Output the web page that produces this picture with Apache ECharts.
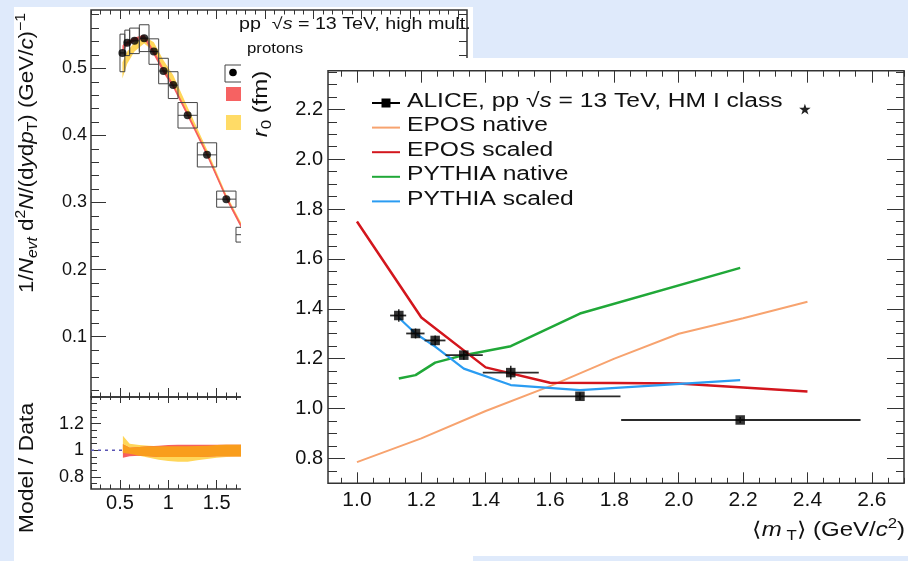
<!DOCTYPE html>
<html>
<head>
<meta charset="utf-8">
<script src="https://cdn.jsdelivr.net/npm/echarts@6/dist/echarts.min.js"></script>
<style>
  html, body { margin: 0; padding: 0; width: 908px; height: 561px; overflow: hidden; background: #dfeafb; }
  #spectrum { position: absolute; left: 14px; top: 7px; width: 459px; height: 554px; background: #ffffff; }
  #radius { position: absolute; left: 241px; top: 58px; width: 667px; height: 498px; background: #ffffff; }
</style>
</head>
<body>
<div id="spectrum"></div>
<div id="radius"></div>
<script>
// ---------- Proton pT spectrum, high-multiplicity pp at 13 TeV ----------
const ptBins       = [0.525, 0.575, 0.65, 0.75, 0.85, 0.95, 1.05, 1.2, 1.4, 1.6, 1.8];
const ptHalfWidth  = [0.025, 0.025, 0.05, 0.05, 0.05, 0.05, 0.05, 0.1, 0.1, 0.1, 0.1];
const protonYield  = [0.523, 0.538, 0.541, 0.545, 0.525, 0.496, 0.475, 0.430, 0.371, 0.305, 0.252];
const protonSys    = [0.028, 0.019, 0.019, 0.020, 0.019, 0.019, 0.020, 0.019, 0.018, 0.012, 0.011];

// model bands on the spectrum
const modelPt     = [0.525, 0.575, 0.65, 0.75, 0.85, 0.95, 1.05, 1.2, 1.4, 1.6, 1.8, 2.0];
const eposLow     = [0.526, 0.534, 0.540, 0.544, 0.520, 0.493, 0.471, 0.428, 0.369, 0.304, 0.249, 0.203];
const eposHigh    = [0.534, 0.541, 0.546, 0.550, 0.527, 0.500, 0.477, 0.434, 0.375, 0.310, 0.255, 0.208];
const pythiaLow   = [0.485, 0.507, 0.525, 0.537, 0.525, 0.497, 0.476, 0.431, 0.370, 0.305, 0.250, 0.203];
const pythiaHigh  = [0.509, 0.525, 0.539, 0.548, 0.539, 0.512, 0.490, 0.442, 0.379, 0.312, 0.257, 0.209];

// model / data ratio bands
const ratioPt        = [0.53, 0.6, 0.7, 0.8, 0.9, 1.0, 1.1, 1.2, 1.3, 1.4, 1.5, 1.6, 1.7, 1.8];
const eposRatioLow   = [0.945, 0.955, 0.960, 0.955, 0.950, 0.950, 0.950, 0.950, 0.950, 0.952, 0.955, 0.955, 0.955, 0.955];
const eposRatioHigh  = [1.045, 1.020, 1.025, 1.030, 1.035, 1.040, 1.042, 1.042, 1.042, 1.042, 1.042, 1.042, 1.042, 1.042];
const pythiaRatioLow = [0.980, 0.975, 0.960, 0.945, 0.930, 0.920, 0.915, 0.915, 0.925, 0.935, 0.945, 0.950, 0.952, 0.952];
const pythiaRatioHigh= [1.110, 1.050, 1.040, 1.035, 1.030, 1.030, 1.030, 1.030, 1.032, 1.035, 1.040, 1.042, 1.042, 1.042];

const spectrumYTicks = [0.1, 0.2, 0.3, 0.4, 0.5];
const ratioYTicks    = [0.8, 1, 1.2];
const ptTicks        = [0.5, 1, 1.5, 2, 2.5, 3, 3.5, 4];

// ---------- Source radius r0 versus <mT> ----------
const aliceMt    = [1.130, 1.182, 1.243, 1.332, 1.478, 1.693, 2.191];
const aliceR0    = [1.373, 1.301, 1.273, 1.214, 1.144, 1.049, 0.954];
const aliceMtLow = [1.103, 1.153, 1.210, 1.275, 1.391, 1.565, 1.821];
const aliceMtHigh= [1.153, 1.210, 1.275, 1.391, 1.565, 1.819, 2.565];
const aliceR0Err = [0.025, 0.020, 0.020, 0.018, 0.028, 0.015, 0.012];

const eposMt       = [1.0, 1.2, 1.4, 1.6, 1.8, 2.0, 2.2, 2.4];
const eposNative   = [0.785, 0.880, 0.990, 1.090, 1.200, 1.300, 1.362, 1.428];
const eposScaled   = [1.750, 1.365, 1.165, 1.103, 1.102, 1.100, 1.084, 1.068];
const pythiaMt     = [1.130, 1.182, 1.243, 1.332, 1.478, 1.693, 2.191];
const pythiaNative = [1.120, 1.134, 1.184, 1.214, 1.250, 1.381, 1.564];
const pythiaScaled = [1.364, 1.301, 1.248, 1.160, 1.094, 1.074, 1.114];

const r0Ticks = [0.8, 1.0, 1.2, 1.4, 1.6, 1.8, 2.0, 2.2];
const mtTicks = [1.0, 1.2, 1.4, 1.6, 1.8, 2.0, 2.2, 2.4, 2.6];

// ---------- shared helpers ----------
const FONT = '"Liberation Sans", Arial, Helvetica, sans-serif';
const INK = '#111';
const FRAME = '#333';

function steps(from, to, step) {
  const out = [];
  for (let v = from; v <= to + 1e-9; v += step) out.push(+v.toFixed(4));
  return out;
}

function axis(kind, o) {
  const a = {
    type: 'value', gridIndex: o.grid, position: o.pos, min: o.min, max: o.max,
    axisLine: { show: false }, splitLine: { show: false },
    axisTick: { show: true, inside: true, length: o.len, customValues: o.ticks,
                lineStyle: { color: FRAME, width: 1 } },
    axisLabel: { show: false }
  };
  if (o.labels) {
    a.axisLabel = { show: true, customValues: o.labels, formatter: o.fmt,
                    fontFamily: FONT, fontSize: o.fontSize, color: INK, margin: o.margin };
  }
  return a;
}

function richStyles(size) {
  return {
    n:   { fontFamily: FONT, fontSize: size, color: INK, lineHeight: Math.round(size * 1.3) },
    i:   { fontFamily: FONT, fontSize: size, color: INK, fontStyle: 'italic', lineHeight: Math.round(size * 1.3) },
    sub: { fontFamily: FONT, fontSize: Math.round(size * 0.68), color: INK, verticalAlign: 'bottom', lineHeight: Math.round(size * 0.7) },
    subi:{ fontFamily: FONT, fontSize: Math.round(size * 0.68), color: INK, fontStyle: 'italic', verticalAlign: 'bottom', lineHeight: Math.round(size * 0.7) },
    sup: { fontFamily: FONT, fontSize: Math.round(size * 0.68), color: INK, verticalAlign: 'top', lineHeight: Math.round(size * 0.7) }
  };
}

function label(text, x, y, size, opts) {
  opts = opts || {};
  return {
    type: 'text', x: x, y: y, z: 100, silent: true,
    rotation: opts.rotation || 0, scaleX: opts.scaleX || 1.2,
    style: {
      text: text, rich: richStyles(size), fontFamily: FONT, fontSize: size, fill: INK,
      align: opts.align || 'left', textAlign: opts.align || 'left',
      verticalAlign: 'middle', textVerticalAlign: 'middle'
    }
  };
}

// filled band between two curves, drawn through the series' axes
function band(xi, yi, xs, lo, hi, color, z) {
  return {
    type: 'custom', xAxisIndex: xi, yAxisIndex: yi, z: z, silent: true,
    data: xs.map((x, i) => [x, lo[i], hi[i]]),
    encode: { x: 0, y: [1, 2] },
    renderItem: (params, api) => {
      if (params.dataIndex !== 0) return;
      const top = xs.map((x, i) => api.coord([x, hi[i]]));
      const bottom = xs.map((x, i) => api.coord([x, lo[i]])).reverse();
      return { type: 'polygon', shape: { points: top.concat(bottom) }, style: { fill: color } };
    }
  };
}

// ================= spectrum + ratio panels =================
const overlapLow = ratioPt.map((_, i) => Math.max(eposRatioLow[i], pythiaRatioLow[i]));
const overlapHigh = ratioPt.map((_, i) => Math.min(eposRatioHigh[i], pythiaRatioHigh[i]));

const ptMinor = steps(0.2, 4.0, 0.1);
const PT_MIN = 0.2, PT_MAX = 4.09;
const SP_MIN = 0.01, SP_MAX = 0.587;
const RA_MIN = 0.71, RA_MAX = 1.40;

const spectrumOption = {
  animation: false,
  grid: [
    { left: 77, top: 3, width: 376, height: 387, show: true, borderColor: FRAME, borderWidth: 1.5 },
    { left: 77, top: 390, width: 376, height: 92, show: true, borderColor: FRAME, borderWidth: 1.5 }
  ],
  xAxis: [
    axis('x', { grid: 0, pos: 'bottom', min: PT_MIN, max: PT_MAX, len: 9, ticks: ptTicks }),
    axis('x', { grid: 0, pos: 'bottom', min: PT_MIN, max: PT_MAX, len: 4.5, ticks: ptMinor }),
    axis('x', { grid: 0, pos: 'top', min: PT_MIN, max: PT_MAX, len: 9, ticks: ptTicks }),
    axis('x', { grid: 0, pos: 'top', min: PT_MIN, max: PT_MAX, len: 4.5, ticks: ptMinor }),
    axis('x', { grid: 1, pos: 'bottom', min: PT_MIN, max: PT_MAX, len: 9, ticks: ptTicks,
                labels: ptTicks, fmt: v => String(v), fontSize: 20, margin: 4 }),
    axis('x', { grid: 1, pos: 'bottom', min: PT_MIN, max: PT_MAX, len: 4.5, ticks: ptMinor }),
    axis('x', { grid: 1, pos: 'top', min: PT_MIN, max: PT_MAX, len: 6, ticks: ptTicks }),
    axis('x', { grid: 1, pos: 'top', min: PT_MIN, max: PT_MAX, len: 3, ticks: ptMinor })
  ],
  yAxis: [
    axis('y', { grid: 0, pos: 'left', min: SP_MIN, max: SP_MAX, len: 15, ticks: spectrumYTicks,
                labels: spectrumYTicks, fmt: v => String(v), fontSize: 18, margin: 4 }),
    axis('y', { grid: 0, pos: 'left', min: SP_MIN, max: SP_MAX, len: 8, ticks: steps(0.02, 0.58, 0.02) }),
    axis('y', { grid: 0, pos: 'right', min: SP_MIN, max: SP_MAX, len: 15, ticks: spectrumYTicks }),
    axis('y', { grid: 0, pos: 'right', min: SP_MIN, max: SP_MAX, len: 8, ticks: steps(0.02, 0.58, 0.02) }),
    axis('y', { grid: 1, pos: 'left', min: RA_MIN, max: RA_MAX, len: 10, ticks: ratioYTicks,
                labels: ratioYTicks, fmt: v => String(v), fontSize: 18, margin: 7 }),
    axis('y', { grid: 1, pos: 'left', min: RA_MIN, max: RA_MAX, len: 6, ticks: steps(0.75, 1.35, 0.05) }),
    axis('y', { grid: 1, pos: 'right', min: RA_MIN, max: RA_MAX, len: 10, ticks: ratioYTicks }),
    axis('y', { grid: 1, pos: 'right', min: RA_MIN, max: RA_MAX, len: 6, ticks: steps(0.75, 1.35, 0.05) })
  ],
  series: [
    band(0, 0, modelPt, pythiaLow, pythiaHigh, '#ffd659', 2),
    band(0, 0, modelPt, eposLow, eposHigh, '#f65f5f', 3),
    {
      type: 'custom', xAxisIndex: 0, yAxisIndex: 0, z: 4, silent: true,
      data: ptBins.map((x, i) => [x, protonYield[i], ptHalfWidth[i], protonSys[i]]),
      encode: { x: 0, y: 1 },
      renderItem: (params, api) => {
        const x = api.value(0), y = api.value(1), hw = api.value(2), s = api.value(3);
        const a = api.coord([x - hw, y + s]);
        const b = api.coord([x + hw, y - s]);
        const l = api.coord([x - hw, y]);
        const r = api.coord([x + hw, y]);
        return {
          type: 'group',
          children: [
            { type: 'rect', shape: { x: a[0], y: a[1], width: b[0] - a[0], height: b[1] - a[1] },
              style: { fill: 'none', stroke: '#444', lineWidth: 1 } },
            { type: 'line', shape: { x1: l[0], y1: l[1], x2: r[0], y2: r[1] },
              style: { stroke: '#444', lineWidth: 1 } }
          ]
        };
      }
    },
    {
      type: 'scatter', xAxisIndex: 0, yAxisIndex: 0, z: 5, silent: true,
      symbol: 'circle', symbolSize: 8, itemStyle: { color: '#000' },
      data: ptBins.map((x, i) => [x, protonYield[i]])
    },
    {
      type: 'line', xAxisIndex: 4, yAxisIndex: 4, z: 1, silent: true, symbol: 'none',
      lineStyle: { color: '#5a55b5', width: 1.5, type: [3, 4] },
      data: [[PT_MIN, 1], [PT_MAX, 1]]
    },
    band(4, 4, ratioPt, pythiaRatioLow, pythiaRatioHigh, '#ffd65a', 2),
    band(4, 4, ratioPt, eposRatioLow, eposRatioHigh, '#f65f5f', 3),
    band(4, 4, ratioPt, overlapLow, overlapHigh, '#f99d1c', 4)
  ],
  graphic: [
    label('pp  √{i|s} = 13 TeV, high mult.', 225, 18, 16, { scaleX: 1.23 }),
    label('protons', 233, 42, 14, { scaleX: 1.2 }),
    { type: 'rect', z: 100, silent: true, shape: { x: 211, y: 58, width: 22, height: 17 },
      style: { fill: '#fff', stroke: '#444', lineWidth: 1 } },
    { type: 'circle', z: 101, silent: true, shape: { cx: 219, cy: 65.5, r: 3.8 }, style: { fill: '#000' } },
    { type: 'rect', z: 100, silent: true, shape: { x: 212, y: 80, width: 22, height: 14 }, style: { fill: '#f66262' } },
    { type: 'rect', z: 100, silent: true, shape: { x: 212, y: 108, width: 22, height: 15 }, style: { fill: '#ffdb66' } },
    label('1/{i|N}{subi|evt} d{sup|2}{i|N}/(d{i|y}d{i|p}{sub|T}) (GeV/{i|c}){sup|−1}', 13, 146, 20,
          { rotation: Math.PI / 2, align: 'center', scaleX: 1.12 }),
    label('Model / Data', 13, 461, 20, { rotation: Math.PI / 2, align: 'center', scaleX: 1.15 })
  ]
};

echarts.init(document.getElementById('spectrum')).setOption(spectrumOption);

// ================= r0 versus <mT> =================
const MT_MIN = 0.91, MT_MAX = 2.7;
const R_MIN = 0.70, R_MAX = 2.355;
const mtMinor = steps(0.95, 2.7, 0.05);
const rMinor = steps(0.7, 2.35, 0.05);

function modelLine(xs, ys, color, width, z) {
  return {
    type: 'line', xAxisIndex: 0, yAxisIndex: 0, z: z, silent: true, symbol: 'none',
    lineStyle: { color: color, width: width }, data: xs.map((x, i) => [x, ys[i]])
  };
}

const legendEntries = [
  { text: 'ALICE, pp √{i|s} = 13 TeV, HM I class', color: '#000', marker: true },
  { text: 'EPOS native', color: '#f7a36f' },
  { text: 'EPOS scaled', color: '#d3161d' },
  { text: 'PYTHIA native', color: '#20a838' },
  { text: 'PYTHIA scaled', color: '#2a9cf2' }
];
const legendGraphics = [];
legendEntries.forEach((e, i) => {
  const y = 45 + i * 24.6;
  legendGraphics.push({ type: 'line', z: 100, silent: true,
    shape: { x1: 131, y1: y, x2: 159, y2: y }, style: { stroke: e.color, lineWidth: 2 } });
  if (e.marker) {
    legendGraphics.push({ type: 'rect', z: 101, silent: true,
      shape: { x: 140.5, y: y - 4.5, width: 9, height: 9 }, style: { fill: '#000' } });
  }
  legendGraphics.push(label(e.text, 166, y - 2, 20, { scaleX: 1.23 }));
});

const radiusOption = {
  animation: false,
  grid: { left: 87, top: 12.7, width: 576, height: 412.6, show: true, borderColor: FRAME, borderWidth: 1.5 },
  xAxis: [
    axis('x', { grid: 0, pos: 'bottom', min: MT_MIN, max: MT_MAX, len: 11, ticks: mtTicks,
                labels: mtTicks, fmt: v => v.toFixed(1), fontSize: 21, margin: 6 }),
    axis('x', { grid: 0, pos: 'bottom', min: MT_MIN, max: MT_MAX, len: 5.5, ticks: mtMinor }),
    axis('x', { grid: 0, pos: 'top', min: MT_MIN, max: MT_MAX, len: 12, ticks: mtTicks }),
    axis('x', { grid: 0, pos: 'top', min: MT_MIN, max: MT_MAX, len: 6, ticks: mtMinor })
  ],
  yAxis: [
    axis('y', { grid: 0, pos: 'left', min: R_MIN, max: R_MAX, len: 17, ticks: r0Ticks,
                labels: r0Ticks, fmt: v => v.toFixed(1), fontSize: 20, margin: 5 }),
    axis('y', { grid: 0, pos: 'left', min: R_MIN, max: R_MAX, len: 9, ticks: rMinor }),
    axis('y', { grid: 0, pos: 'right', min: R_MIN, max: R_MAX, len: 17, ticks: r0Ticks }),
    axis('y', { grid: 0, pos: 'right', min: R_MIN, max: R_MAX, len: 8, ticks: rMinor })
  ],
  series: [
    modelLine(eposMt, eposNative, '#f7a36f', 2, 2),
    modelLine(pythiaMt, pythiaNative, '#20a838', 2.5, 3),
    modelLine(eposMt, eposScaled, '#d3161d', 2.5, 4),
    modelLine(pythiaMt, pythiaScaled, '#2a9cf2', 2.2, 5),
    {
      type: 'custom', xAxisIndex: 0, yAxisIndex: 0, z: 6, silent: true,
      data: aliceMt.map((x, i) => [x, aliceR0[i], aliceMtLow[i], aliceMtHigh[i], aliceR0Err[i]]),
      encode: { x: 0, y: 1 },
      renderItem: (params, api) => {
        const x = api.value(0), y = api.value(1);
        const l = api.coord([api.value(2), y]);
        const r = api.coord([api.value(3), y]);
        const t = api.coord([x, y + api.value(4)]);
        const b = api.coord([x, y - api.value(4)]);
        return {
          type: 'group',
          children: [
            { type: 'line', shape: { x1: l[0], y1: l[1], x2: r[0], y2: r[1] },
              style: { stroke: '#2a2a2a', lineWidth: 1.8 } },
            { type: 'line', shape: { x1: t[0], y1: t[1], x2: b[0], y2: b[1] },
              style: { stroke: '#2a2a2a', lineWidth: 1.5 } }
          ]
        };
      }
    },
    {
      type: 'scatter', xAxisIndex: 0, yAxisIndex: 0, z: 7, silent: true,
      symbol: 'rect', symbolSize: 9.5, itemStyle: { color: '#000' },
      data: aliceMt.map((x, i) => [x, aliceR0[i]])
    }
  ],
  graphic: legendGraphics.concat([
    { type: 'text', x: 564, y: 53, z: 100, silent: true,
      style: { text: '⋆', fontFamily: '"DejaVu Sans", sans-serif', fontSize: 30, fill: '#222',
               align: 'center', textAlign: 'center', verticalAlign: 'middle', textVerticalAlign: 'middle' } },
    label('{i|r}{sub|0} (fm)', 20, 46, 20, { rotation: Math.PI / 2, align: 'center', scaleX: 1.2 }),
    label('⟨{i|m}{sub| T}⟩ (GeV/{i|c}{sup|2})', 664, 472, 20, { align: 'right', scaleX: 1.2 })
  ])
};

echarts.init(document.getElementById('radius')).setOption(radiusOption);
</script>
</body>
</html>
